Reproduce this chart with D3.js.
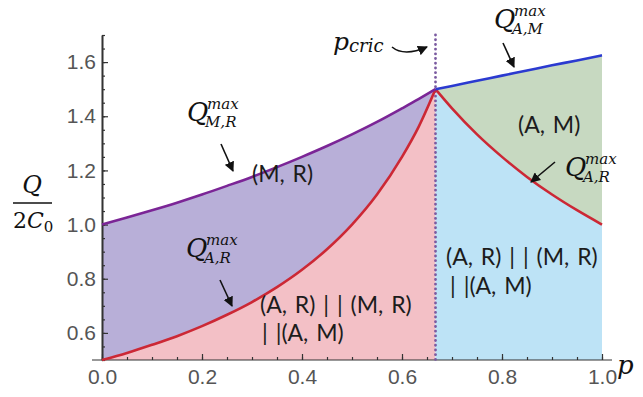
<!DOCTYPE html>
<html>
<head>
<meta charset="utf-8">
<script src="https://cdn.jsdelivr.net/npm/d3@7"></script>
<style>
  body { margin: 0; background: #fff; }
  svg { display: block; }
</style>
</head>
<body>
<div id="chart"></div>
<script>
// values
const pLeft  = [0, 0.05, 0.1, 0.15, 0.2, 0.25, 0.3, 0.35, 0.4, 0.45, 0.5, 0.55, 0.6, 0.633, 0.667];
const qMR    = [1.00, 1.026, 1.053, 1.081, 1.111, 1.143, 1.176, 1.212, 1.25, 1.29, 1.333, 1.379, 1.429, 1.463, 1.50];
const qARlow = [0.50, 0.526, 0.556, 0.588, 0.625, 0.667, 0.714, 0.769, 0.833, 0.909, 1.00, 1.111, 1.25, 1.36, 1.50];
const pRight = [0.667, 0.7, 0.75, 0.8, 0.85, 0.9, 0.95, 1.0];
const qARhigh = [1.50, 1.429, 1.333, 1.25, 1.176, 1.111, 1.053, 1.00];
const qAM    = [1.50, 1.512, 1.531, 1.55, 1.569, 1.588, 1.606, 1.625];
const pCrit = 0.667;
const xMajor = [0, 0.2, 0.4, 0.6, 0.8, 1.0];
const yMajor = [0.6, 0.8, 1.0, 1.2, 1.4, 1.6];

const W = 643, H = 397;
const svg = d3.select("#chart").append("svg")
    .attr("width", W).attr("height", H);

const x = d3.scaleLinear().domain([0, 1]).range([102, 602]);
const y = d3.scaleLinear().domain([0.5, 1.7]).range([360, 35]);

const left = pLeft.map((p, i) => ({p, top: qMR[i], mid: qARlow[i]}));
const right = pRight.map((p, i) => ({p, top: qAM[i], mid: qARhigh[i]}));

const curve = d3.curveMonotoneX;
const area = (lo, hi) => d3.area().curve(curve).x(d => x(d.p)).y0(d => y(lo(d))).y1(d => y(hi(d)));
const line = key => d3.line().curve(curve).x(d => x(d.p)).y(d => y(d[key]));

// filled regions
svg.append("path").datum(left).attr("fill", "#f3c0c6").attr("d", area(d => 0.5, d => d.mid));
svg.append("path").datum(left).attr("fill", "#b8afd8").attr("d", area(d => d.mid, d => d.top));
svg.append("path").datum(right).attr("fill", "#bde3f6").attr("d", area(d => 0.5, d => d.mid));
svg.append("path").datum(right).attr("fill", "#c7d9c1").attr("d", area(d => d.mid, d => d.top));

// axes
const axisCol = "#333";
const yMinor = d3.range(0.5, 1.701, 0.05);
const xMinor = d3.range(0, 1.001, 0.05);

const gy = svg.append("g").attr("transform", `translate(${x(0)},0)`);
gy.call(d3.axisLeft(y).tickValues(yMinor).tickSize(-3).tickSizeOuter(0).tickFormat(""));
gy.append("g").call(d3.axisLeft(y).tickValues(yMajor).tickSize(-6).tickSizeOuter(0).tickFormat(d3.format(".1f")));
gy.selectAll("path.domain").attr("stroke", axisCol).attr("stroke-width", 1.6);
gy.selectAll("line").attr("stroke", axisCol).attr("stroke-width", 1.2);
gy.selectAll("text").attr("x", -6).attr("fill", "#555")
    .style("font-family", "Liberation Sans, Arial, sans-serif").style("font-size", "21px");

const gx = svg.append("g").attr("transform", `translate(0,${y(0.5)})`);
gx.call(d3.axisBottom(x).tickValues(xMinor).tickSize(-3).tickSizeOuter(0).tickFormat(""));
gx.append("g").call(d3.axisBottom(x).tickValues(xMajor).tickSize(-6).tickSizeOuter(0).tickFormat(d3.format(".1f")));
gx.selectAll("path.domain").remove();
gx.append("line").attr("x1", x(-0.02)).attr("x2", x(1.02))
    .attr("stroke", axisCol).attr("stroke-width", 1.6);
gx.selectAll("line").attr("stroke", axisCol).attr("stroke-width", 1.2);
gx.selectAll("text").attr("y", 9).attr("fill", "#555")
    .style("font-family", "Liberation Sans, Arial, sans-serif").style("font-size", "21px");

// dotted critical line
svg.append("line")
    .attr("x1", x(pCrit)).attr("x2", x(pCrit))
    .attr("y1", y(1.7)).attr("y2", y(0.5))
    .attr("stroke", "#7a5aa0").attr("stroke-width", 2.8)
    .attr("stroke-dasharray", "0.1,4.6").attr("stroke-linecap", "round");

// curves
svg.append("path").datum(left).attr("fill", "none").attr("stroke", "#cc2835")
    .attr("stroke-width", 2.6).attr("d", line("mid"));
svg.append("path").datum(right).attr("fill", "none").attr("stroke", "#cc2835")
    .attr("stroke-width", 2.6).attr("d", line("mid"));
svg.append("path").datum(left).attr("fill", "none").attr("stroke", "#7b2596")
    .attr("stroke-width", 2.6).attr("d", line("top"));
svg.append("path").datum(right).attr("fill", "none").attr("stroke", "#2b3ad0")
    .attr("stroke-width", 2.6).attr("d", line("top"));

// arrows
svg.append("defs").append("marker")
    .attr("id", "head").attr("viewBox", "0 0 10 10")
    .attr("refX", 9).attr("refY", 5)
    .attr("markerWidth", 10).attr("markerHeight", 10)
    .attr("markerUnits", "userSpaceOnUse")
    .attr("orient", "auto")
    .append("path").attr("d", "M0,0 L10,5 L0,10 Z").attr("fill", "#111");

const arrows = [
  "M221,144 L233,171",
  "M220,280 L232,306",
  "M503,43 L514,67",
  "M555,162 L531,182",
  "M392,47 Q404,57 427,47"
];
svg.selectAll(".arrow").data(arrows).enter().append("path")
    .attr("d", d => d).attr("fill", "none")
    .attr("stroke", "#111").attr("stroke-width", 1.6)
    .attr("marker-end", "url(#head)");

// math labels
const serif = "DejaVu Serif, serif";
function qLabel(x0, base, sub) {
  const t = svg.append("text").attr("x", x0).attr("y", base)
      .style("font-family", serif).style("font-style", "italic").attr("fill", "#111");
  t.append("tspan").style("font-size", "26px").text("Q");
  const w = 22;
  t.append("tspan").attr("x", x0 + w - 2).attr("dy", -12).style("font-size", "15px").text("max");
  t.append("tspan").attr("x", x0 + w - 4).attr("dy", 18).style("font-size", "15px").text(sub);
}
qLabel(187, 121, "M,R");
qLabel(186, 257, "A,R");
qLabel(494, 28, "A,M");
qLabel(565, 176, "A,R");

// p_cric
const pc = svg.append("text").attr("x", 333).attr("y", 50)
    .style("font-family", serif).style("font-style", "italic").attr("fill", "#111");
pc.append("tspan").style("font-size", "25px").text("p");
pc.append("tspan").style("font-size", "18px").attr("dy", 2).text("cric");

// axis titles
const yl = svg.append("g");
yl.append("text").attr("x", 32).attr("y", 193).attr("text-anchor", "middle")
    .style("font-family", serif).style("font-style", "italic")
    .style("font-size", "24px").attr("fill", "#111").text("Q");
yl.append("line").attr("x1", 13).attr("x2", 52).attr("y1", 203).attr("y2", 203)
    .attr("stroke", "#111").attr("stroke-width", 1.3);
const den = yl.append("text").attr("x", 13).attr("y", 228)
    .style("font-family", serif).attr("fill", "#111");
den.append("tspan").style("font-size", "22px").text("2");
den.append("tspan").style("font-size", "22px").style("font-style", "italic").text("C");
den.append("tspan").style("font-size", "15px").attr("dy", 4).text("0");

svg.append("text").attr("x", 617).attr("y", 374)
    .style("font-family", serif).style("font-style", "italic")
    .style("font-size", "26px").attr("fill", "#111").text("p");

// region labels
const sans = "Lato, Open Sans, sans-serif";
const regions = [
  {t: "(M, R)", x: 252, y: 182},
  {t: "(A, R) | | (M, R)", x: 260, y: 313},
  {t: "| |(A, M)", x: 262, y: 341},
  {t: "(A, M)", x: 518, y: 133},
  {t: "(A, R) | | (M, R)", x: 446, y: 265},
  {t: "| |(A, M)", x: 450, y: 294}
];
svg.selectAll(".region").data(regions).enter().append("text")
    .attr("x", d => d.x).attr("y", d => d.y)
    .style("font-family", sans).style("font-size", "23px")
    .style("word-spacing", "2px")
    .attr("fill", "#1c1c1c").text(d => d.t);
</script>
</body>
</html>
